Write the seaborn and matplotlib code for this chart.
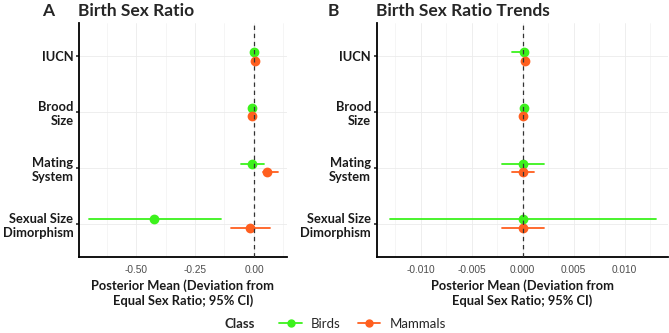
import pandas as pd
import matplotlib.pyplot as plt
import seaborn as sns
from matplotlib.lines import Line2D
from matplotlib.ticker import AutoMinorLocator
from matplotlib.offsetbox import HPacker

sns.set_theme(style="white")
plt.rcParams['font.family'] = ['Lato', 'DejaVu Sans']

traits = ["IUCN", "Brood\nSize", "Mating\nSystem", "Sexual Size\nDimorphism"]
classes = ["Birds", "Mammals"]

# Panel A - birth sex ratio (posterior mean, 95% CI)
birds_mean_a = [0.000, -0.007, -0.007, -0.422]
birds_lo_a = [-0.004, -0.010, -0.056, -0.698]
birds_hi_a = [0.004, -0.004, 0.042, -0.140]
mammals_mean_a = [0.003, -0.007, 0.056, -0.016]
mammals_lo_a = [0.000, -0.010, 0.040, -0.097]
mammals_hi_a = [0.006, -0.004, 0.100, 0.070]

# Panel B - birth sex ratio trends
birds_mean_b = [0.00016, 0.0001, 0.0000, 0.0000]
birds_lo_b = [-0.00105, -0.0001, -0.0020, -0.0130]
birds_hi_b = [0.00030, 0.0003, 0.0021, 0.0131]
mammals_mean_b = [0.0002, 0.00006, 0.0000, 0.0000]
mammals_lo_b = [0.0000, -0.0001, -0.0010, -0.0020]
mammals_hi_b = [0.0004, 0.0002, 0.0011, 0.0021]

palette = {"Birds": "#3CF21C", "Mammals": "#FF5F1F"}


def long_table(b_mean, b_lo, b_hi, m_mean, m_lo, m_hi):
    # three rows per estimate (lo, mean, hi): median -> mean, min/max -> CI
    rows = []
    for cls, mean, lo, hi in [("Birds", b_mean, b_lo, b_hi), ("Mammals", m_mean, m_lo, m_hi)]:
        for t, a, b, c in zip(traits, lo, mean, hi):
            for v in (a, b, c):
                rows.append({"Trait": t, "Class": cls, "value": v})
    return pd.DataFrame(rows)


df_a = long_table(birds_mean_a, birds_lo_a, birds_hi_a, mammals_mean_a, mammals_lo_a, mammals_hi_a)
df_b = long_table(birds_mean_b, birds_lo_b, birds_hi_b, mammals_mean_b, mammals_lo_b, mammals_hi_b)

fig = plt.figure(figsize=(6.69, 3.33), dpi=100)
ax_a = fig.add_axes([0.118, 0.228, 0.311, 0.703])
ax_b = fig.add_axes([0.563, 0.228, 0.4355, 0.703])

panels = [
    (ax_a, df_a, (-0.742, 0.14), [-0.5, -0.25, 0.0], "{:.2f}"),
    (ax_b, df_b, (-0.01434, 0.01427), [-0.01, -0.005, 0.0, 0.005, 0.01], "{:.3f}"),
]

for ax, df, xlim, xticks, fmt in panels:
    sns.pointplot(data=df, x="value", y="Trait", hue="Class", order=traits,
                  hue_order=classes, palette=palette, estimator="median",
                  errorbar=lambda v: (v.min(), v.max()), dodge=0.15,
                  linestyle="none", markers="o", markersize=5,
                  err_kws={"linewidth": 1.3}, orient="h", ax=ax, zorder=3)
    ax.axvline(0, color="#333333", ls=(0, (3.5, 3)), lw=0.9, zorder=5)
    ax.set_xlim(*xlim)
    ax.set_ylim(3.6, -0.6)
    ax.set_xticks(xticks)
    ax.set_xticklabels([fmt.format(t) for t in xticks])
    ax.xaxis.set_minor_locator(AutoMinorLocator(2))
    ax.grid(True, which="major", color="#ebebeb", lw=0.6)
    ax.grid(True, which="minor", axis="x", color="#f2f2f2", lw=0.5)
    ax.set_axisbelow(True)
    for s in ["top", "right"]:
        ax.spines[s].set_visible(False)
    for s in ["left", "bottom"]:
        ax.spines[s].set_color("black")
        ax.spines[s].set_linewidth(1.3)
    ax.tick_params(axis="x", labelsize=7.3, labelcolor="#4d4d4d", length=0, pad=6)
    ax.tick_params(axis="y", labelsize=9.3, labelcolor="#1a1a1a", length=2,
                   color="#333333", pad=2, left=True)
    for lab in ax.get_xticklabels():
        lab.set_fontfamily("Liberation Sans")
    for lab in ax.get_yticklabels():
        lab.set_fontweight("bold")
        lab.set_linespacing(1.2)
    ax.set_ylabel("")
    ax.set_xlabel("Posterior Mean (Deviation from\nEqual Sex Ratio; 95% CI)",
                  fontsize=9.3, fontweight="bold", color="#1a1a1a", labelpad=3,
                  linespacing=1.2)
    if ax.get_legend() is not None:
        ax.get_legend().remove()

title_y = 1 - 15.5 / 333
fig.text(42 / 669, title_y, "A", fontsize=12.5, fontweight="bold", va="baseline")
fig.text(78 / 669, title_y, "Birth Sex Ratio", fontsize=12.5, fontweight="bold", va="baseline")
fig.text(328 / 669, title_y, "B", fontsize=12.5, fontweight="bold", va="baseline")
fig.text(376 / 669, title_y, "Birth Sex Ratio Trends", fontsize=12.5, fontweight="bold",
         va="baseline")

handles = [Line2D([0], [0], color=palette[c], marker="o", markersize=5, lw=1.3) for c in classes]
leg = fig.legend(handles, classes, loc="center", bbox_to_anchor=(335 / 669, 1 - 324 / 333),
                 ncol=2, frameon=False, fontsize=9.5, title="Class",
                 handlelength=1.7, columnspacing=1.3, handletextpad=0.7,
                 borderpad=0)
leg.get_title().set_fontweight("bold")
leg.get_title().set_fontsize(9.5)
# title inline with the entries
box = leg._legend_box
box._children = [HPacker(children=box._children, align="center", pad=0, sep=18)]

fig.savefig("out.png", dpi=100)
